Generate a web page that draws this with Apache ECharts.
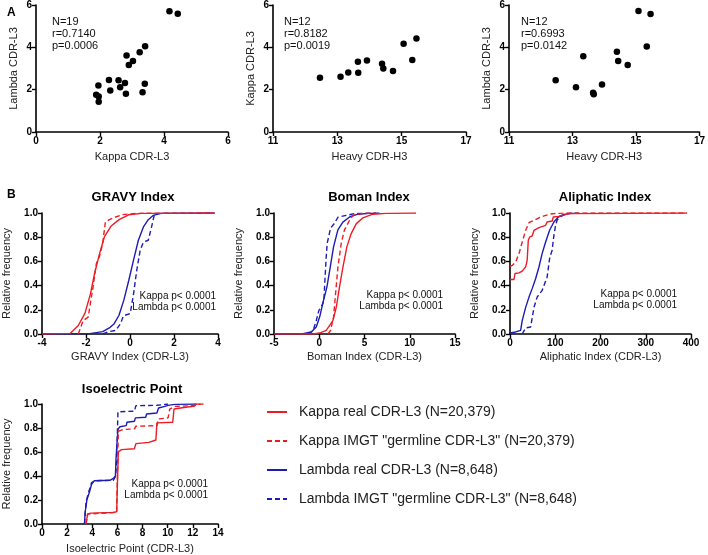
<!DOCTYPE html>
<html><head><meta charset="utf-8">
<script src="https://cdn.jsdelivr.net/npm/echarts@6/dist/echarts.min.js"></script>
<style>html,body{margin:0;padding:0;background:#fff}#c{width:708px;height:555px}</style>
</head><body><div id="c"></div>
<script>
// ---- Panel A data ----
const kappaVsLambda = [[4.17,5.71],[4.43,5.59],[3.41,4.05],[3.24,3.77],[2.83,3.61],[3.03,3.36],[2.90,3.16],[2.28,2.46],[2.58,2.45],[2.78,2.32],[3.40,2.28],[1.95,2.20],[2.63,2.12],[2.32,1.96],[2.81,1.81],[3.33,1.88],[1.88,1.76],[1.96,1.68],[1.96,1.43]];
const heavyVsKappa = [[12.46,2.56],[13.10,2.61],[13.34,2.81],[13.65,2.80],[13.64,3.32],[13.92,3.38],[14.39,3.22],[14.43,3.00],[14.73,2.88],[15.06,4.17],[15.33,3.40],[15.46,4.42]];
const heavyVsLambda = [[12.47,2.44],[13.11,2.11],[13.34,3.58],[13.65,1.86],[13.67,1.78],[13.93,2.25],[14.40,3.79],[14.44,3.36],[14.74,3.16],[15.08,5.72],[15.34,4.04],[15.46,5.58]];
const statsA = [["N=19","r=0.7140","p=0.0006"],["N=12","r=0.8182","p=0.0019"],["N=12","r=0.6993","p=0.0142"]];

// ---- Panel B data (cumulative distributions) ----
const gravyKappaReal = [[-4,0],[-2.72,0.005],[-2.35,0.07],[-2.05,0.17],[-1.8,0.33],[-1.61,0.5],[-1.39,0.66],[-1.17,0.8],[-0.87,0.89],[-0.5,0.945],[-0.06,0.985],[0.53,0.997],[3.85,1]];
const gravyKappaGerm = [[-2.35,0],[-2.13,0.11],[-1.9,0.14],[-1.68,0.39],[-1.53,0.58],[-1.39,0.64],[-1.24,0.75],[-1.12,0.925],[-0.94,0.945],[-0.65,0.967],[-0.35,0.986],[0.24,0.997],[3.78,1]];
const gravyLambdaReal = [[-4,0],[-1.83,0.003],[-1.24,0.02],[-0.94,0.05],[-0.72,0.085],[-0.5,0.155],[-0.28,0.28],[-0.06,0.44],[0.16,0.61],[0.38,0.775],[0.61,0.885],[0.83,0.945],[1.05,0.98],[1.42,0.997],[3.85,1]];
const gravyLambdaGerm = [[-1.24,0],[-1.02,0.017],[-0.65,0.03],[-0.43,0.085],[-0.3,0.15],[0.01,0.17],[0.16,0.33],[0.31,0.53],[0.46,0.69],[0.61,0.76],[0.83,0.775],[0.98,0.885],[1.1,0.98],[1.27,0.997],[3.78,1]];

const bomanKappaReal = [[-5,0],[-0.7,0],[0.04,0.008],[0.77,0.03],[1.51,0.11],[1.88,0.22],[2.24,0.39],[2.61,0.55],[3.05,0.72],[3.53,0.83],[4.08,0.91],[4.82,0.96],[5.92,0.99],[7.39,0.997],[10.7,1]];
const bomanKappaGerm = [[0.96,0],[1.25,0.03],[1.58,0.14],[1.8,0.33],[2.06,0.55],[2.43,0.75],[2.79,0.86],[3.35,0.94],[3.71,0.98],[4.82,0.997],[6.29,1]];
const bomanLambdaReal = [[-5,0],[-1.8,0.003],[-0.88,0.017],[-0.33,0.058],[0.04,0.14],[0.48,0.28],[0.85,0.39],[1.21,0.55],[1.58,0.72],[2.06,0.86],[2.61,0.925],[3.35,0.967],[4.26,0.99],[5.55,0.997],[6.65,1]];
const bomanLambdaGerm = [[-1.25,0.003],[-0.7,0.025],[-0.33,0.11],[-0.04,0.195],[0.22,0.22],[0.51,0.28],[0.77,0.64],[0.88,0.75],[1.25,0.875],[1.69,0.915],[2.06,0.965],[2.98,0.98],[3.9,0.995],[6.29,1]];

const aliKappaReal = [[0,0.45],[8.8,0.45],[11,0.5],[19.9,0.505],[27,0.52],[34.6,0.555],[38,0.61],[40.4,0.775],[43.4,0.8],[49,0.81],[53,0.857],[64,0.879],[78.7,0.898],[82,0.926],[93.4,0.934],[95.6,0.967],[108,0.972],[112,0.986],[130,0.995],[391,1]];
const aliKappaGerm = [[0,0.56],[5,0.567],[12.5,0.595],[19.9,0.664],[27,0.76],[34.6,0.857],[42,0.92],[53,0.94],[64,0.96],[78.7,0.98],[93,0.994],[123,1],[391,1]];
const aliLambdaReal = [[0,0.008],[12.5,0.017],[23.5,0.03],[27,0.11],[34.6,0.22],[42,0.305],[49,0.375],[56.6,0.457],[64,0.554],[71,0.664],[78.7,0.76],[87.5,0.857],[97,0.926],[106.6,0.967],[119,0.989],[137.5,0.997],[152,1]];
const aliLambdaGerm = [[27,0],[34.6,0.05],[45.6,0.058],[53,0.22],[60,0.305],[71,0.36],[82,0.47],[88,0.636],[93,0.69],[97,0.815],[100.7,0.898],[104,0.94],[109.6,0.967],[126.5,0.994],[137.5,1]];

const pIKappaReal = [[3.5,0],[3.63,0.083],[3.9,0.091],[5.68,0.097],[5.94,0.102],[6.07,0.1],[6.07,0.6],[6.32,0.62],[7.35,0.627],[7.47,0.67],[8.5,0.68],[9.06,0.7],[9.14,0.843],[10.4,0.848],[10.5,0.958],[11.57,0.975],[12.08,0.98],[12.3,1],[12.85,1]];
const pIKappaGerm = [[3.5,0],[3.63,0.083],[5.94,0.097],[6.07,0.097],[6.07,0.773],[6.45,0.787],[7.35,0.793],[7.47,0.815],[9.14,0.82],[9.27,0.876],[10.03,0.884],[10.16,0.958],[10.55,0.98],[12.08,0.986],[12.6,1]];
const pILambdaReal = [[3.38,0],[3.43,0.097],[3.58,0.207],[3.76,0.26],[3.94,0.33],[4.15,0.36],[5.43,0.365],[5.68,0.38],[5.84,0.4],[5.89,0.55],[6.0,0.56],[6.04,0.79],[6.2,0.81],[6.7,0.82],[6.76,0.848],[7.35,0.856],[7.43,0.884],[8.25,0.89],[8.32,0.917],[9.14,0.925],[9.27,0.967],[9.78,0.98],[10.03,0.989],[10.55,0.997],[12.3,1]];
const pILambdaGerm = [[3.38,0],[3.5,0.18],[3.69,0.26],[3.94,0.345],[4.2,0.36],[5.68,0.365],[5.86,0.4],[5.94,0.538],[6.01,0.55],[6.04,0.935],[7.35,0.94],[7.47,0.986],[9.14,0.989],[9.27,1],[10.03,1]];

const seriesNames = ['Kappa real CDR-L3 (N=20,379)','Kappa IMGT "germline CDR-L3" (N=20,379)','Lambda real CDR-L3 (N=8,648)','Lambda IMGT "germline CDR-L3" (N=8,648)'];
const panelTitles = ['GRAVY Index','Boman Index','Aliphatic Index','Isoelectric Point'];
const panelXNames = ['GRAVY Index (CDR-L3)','Boman Index (CDR-L3)','Aliphatic Index (CDR-L3)','Isoelectric Point (CDR-L3)'];
const pText = ['Kappa p< 0.0001','Lambda p< 0.0001'];

const RED = '#ec1c24', BLUE = '#1c1cb4';
const FONT = '"Liberation Sans", Arial, sans-serif';

const gridsA = [
  {left:36, top:5, width:192, height:127},
  {left:273, top:5, width:193, height:127},
  {left:509, top:5, width:193, height:127}
];
const gridsB = [
  {left:38, top:213, width:180, height:121},
  {left:274, top:213, width:181, height:121},
  {left:510, top:213, width:181, height:121},
  {left:36, top:404, width:182, height:121}
];
const grids = gridsA.concat(gridsB);

function axisBase(){
  return {
    axisLine:{onZero:false, lineStyle:{color:'#000', width:1.6}},
    axisTick:{show:true, inside:false, length:4, lineStyle:{color:'#000', width:1.4}},
    splitLine:{show:false},
    axisLabel:{color:'#000', fontFamily:FONT, fontWeight:'bold', fontSize:10, margin:4},
    nameTextStyle:{color:'#222', fontFamily:FONT, fontSize:11},
    nameLocation:'middle'
  };
}
const xAxes = [], yAxes = [];
const xA = [[0,6,2,'Kappa CDR-L3'],[11,17,2,'Heavy CDR-H3'],[11,17,2,'Heavy CDR-H3']];
const yANames = ['Lambda CDR-L3','Kappa CDR-L3','Lambda CDR-L3'];
xA.forEach((a,i)=>{
  xAxes.push(Object.assign(axisBase(),{type:'value', gridIndex:i, min:a[0], max:a[1], interval:a[2], name:a[3], nameGap:19}));
  yAxes.push(Object.assign(axisBase(),{type:'value', gridIndex:i, min:0, max:6, interval:2, name:yANames[i], nameGap:17}));
});
const xB = [[-4,4,2],[-5,15,5],[0,400,100],[0,14,2]];
xB.forEach((a,i)=>{
  const g = i+3;
  xAxes.push(Object.assign(axisBase(),{type:'value', gridIndex:g, min:a[0], max:a[1], interval:a[2], name:panelXNames[i], nameGap:i===3?19:17}));
  yAxes.push(Object.assign(axisBase(),{type:'value', gridIndex:g, min:0, max:1, interval:0.2, name:'Relative frequency', nameGap:30,
    axisLabel:{color:'#000', fontFamily:FONT, fontWeight:'bold', fontSize:10, margin:4, formatter:v=>v.toFixed(1)}}));
});

const series = [];
[kappaVsLambda, heavyVsKappa, heavyVsLambda].forEach((d,i)=>{
  series.push({type:'scatter', xAxisIndex:i, yAxisIndex:i, data:d, symbolSize:6.5, itemStyle:{color:'#000', opacity:1}, silent:true});
});
const curves = [
  [gravyKappaReal,gravyKappaGerm,gravyLambdaReal,gravyLambdaGerm],
  [bomanKappaReal,bomanKappaGerm,bomanLambdaReal,bomanLambdaGerm],
  [aliKappaReal,aliKappaGerm,aliLambdaReal,aliLambdaGerm],
  [pIKappaReal,pIKappaGerm,pILambdaReal,pILambdaGerm]
];
const styles = [[RED,'solid'],[RED,[5,3]],[BLUE,'solid'],[BLUE,[5,3]]];
const drawOrder = [2,3,0,1];
curves.forEach((set,p)=>{
  drawOrder.forEach(k=>{
    series.push({type:'line', name:seriesNames[k], xAxisIndex:p+3, yAxisIndex:p+3, data:set[k],
      symbol:'none', showSymbol:false, animation:false, silent:true,
      lineStyle:{color:styles[k][0], width:1.4, type:styles[k][1]}, itemStyle:{color:styles[k][0]}});
  });
});

const titles = [
  {text:'A', left:2, top:2},
  {text:'B', left:2, top:184}
].map(t=>Object.assign(t,{textStyle:{fontFamily:FONT, fontWeight:'bold', fontSize:12, color:'#000'}}));
const titlePos = [[128,186],[364,186],[600,186],[127,378]];
titlePos.forEach((p,i)=>titles.push({text:panelTitles[i], left:p[0], top:p[1], textAlign:'center',
  textStyle:{fontFamily:FONT, fontWeight:'bold', fontSize:13, color:'#000'}}));

const graphics = [];
const statPos = [[52,16],[284,16],[521,16]];
statsA.forEach((s,i)=>s.forEach((t,j)=>graphics.push({type:'text', left:statPos[i][0], top:statPos[i][1]+j*12,
  style:{text:t, font:'11px '+FONT, fill:'#111'}})));
const pPos = [[216,291],[443,290],[677,289],[208,479]];
pPos.forEach(p=>pText.forEach((t,j)=>graphics.push({type:'text', x:p[0], y:p[1]+j*11,
  style:{text:t, font:'10px '+FONT, fill:'#111', textAlign:'right', textVerticalAlign:'top'}})));

const chart = echarts.init(document.getElementById('c'), null, {renderer:'canvas'});
chart.setOption({
  animation:false,
  backgroundColor:'#fff',
  title:titles,
  grid:grids,
  xAxis:xAxes,
  yAxis:yAxes,
  series:series,
  graphic:graphics,
  legend:{data:seriesNames, orient:'vertical', left:261, top:400, itemWidth:20, itemHeight:12, itemGap:15,
    selectedMode:false,
    itemStyle:{color:'rgba(0,0,0,0)', borderWidth:0, opacity:0},
    lineStyle:{width:2},
    textStyle:{fontFamily:FONT, fontSize:14, color:'#222', padding:[0,0,0,7]}}
});
</script></body></html>
